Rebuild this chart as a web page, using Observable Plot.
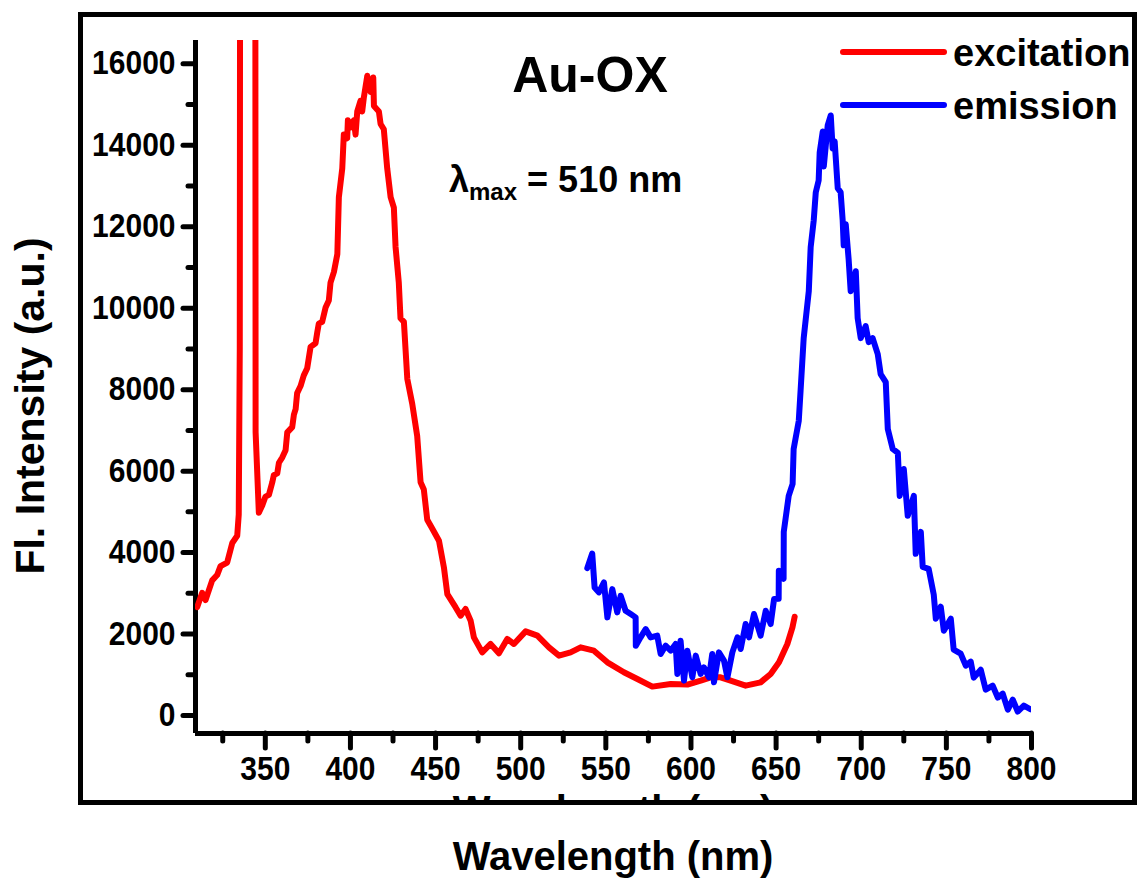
<!DOCTYPE html>
<html>
<head>
<meta charset="utf-8">
<script src="https://cdn.jsdelivr.net/npm/d3@7"></script>
<script src="https://cdn.jsdelivr.net/npm/@observablehq/plot@0.6"></script>
<style>
  html, body { margin: 0; padding: 0; background: #fff; }
  #chart { width: 1140px; height: 879px; }
</style>
</head>
<body>
<div id="chart"></div>
<script>
// ---- Data ----
const excitationWavelength = [310.0, 312.9, 314.9, 318.8, 321.7, 323.7, 327.6, 330.6, 333.5, 334.4, 335.0, 335.4, 340.0, 344.0, 344.3, 346.2, 348.2, 350.1, 352.1, 354.1, 355.0, 357.0, 358.0, 360.0, 361.9, 362.9, 365.8, 366.8, 367.8, 368.7, 370.7, 372.6, 374.6, 376.6, 379.5, 380.5, 381.4, 383.4, 385.4, 387.3, 388.3, 390.3, 392.3, 393.2, 395.2, 396.1, 398.1, 398.5, 400.1, 402.0, 403.0, 404.0, 405.9, 406.9, 407.9, 409.9, 411.8, 412.8, 413.4, 413.8, 416.7, 417.7, 419.6, 421.6, 423.6, 425.5, 426.5, 428.4, 429.4, 431.4, 433.4, 436.3, 439.2, 441.2, 443.1, 445.1, 448.1, 452.0, 454.9, 456.9, 461.8, 464.7, 467.6, 470.6, 472.5, 477.4, 482.3, 487.2, 492.1, 496.0, 502.9, 509.8, 516.6, 522.5, 529.3, 535.2, 543.0, 550.9, 560.6, 568.5, 577.3, 588.1, 597.9, 605.7, 611.6, 617.4, 623.3, 632.1, 640.9, 646.8, 651.7, 656.6, 659.6, 660.9];
const excitationIntensity = [2662, 3012, 2836, 3319, 3449, 3667, 3755, 4238, 4412, 4937, 9000, 30000, 60000, 30000, 6960, 4980, 5157, 5375, 5417, 5726, 5900, 5944, 6206, 6338, 6512, 6951, 7081, 7387, 7520, 7914, 8088, 8350, 8527, 9051, 9139, 9402, 9620, 9664, 10015, 10189, 10628, 10890, 11327, 12728, 13429, 14260, 14172, 14611, 14434, 14611, 14260, 14829, 15091, 14829, 15179, 15703, 15309, 15573, 15662, 14961, 14829, 14522, 14391, 13429, 12728, 12466, 11502, 10628, 9752, 9664, 8262, 7650, 6863, 5726, 5549, 4807, 4586, 4290, 3635, 2983, 2655, 2451, 2615, 2328, 1920, 1552, 1757, 1527, 1880, 1757, 2066, 1961, 1675, 1471, 1552, 1675, 1593, 1307, 1062, 899, 711, 776, 760, 858, 939, 939, 858, 735, 816, 1022, 1307, 1757, 2164, 2426];

const emissionWavelength = [539.1, 542.0, 543.4, 545.9, 548.9, 550.9, 553.8, 556.7, 558.7, 561.6, 564.6, 567.5, 567.6, 570.4, 573.4, 576.3, 580.2, 582.2, 585.1, 588.1, 591.0, 592.0, 593.9, 595.9, 597.9, 600.8, 602.8, 605.7, 607.6, 610.6, 612.5, 613.5, 616.4, 619.4, 621.4, 624.3, 627.3, 629.2, 632.1, 634.1, 637.0, 640.9, 643.9, 646.8, 648.8, 651.5, 651.6, 654.4, 654.5, 657.4, 659.7, 660.3, 663.3, 664.4, 666.2, 669.2, 670.3, 672.1, 673.3, 675.0, 675.6, 677.4, 678.0, 680.3, 682.1, 683.2, 684.4, 686.2, 687.9, 689.1, 689.7, 690.9, 692.6, 693.8, 696.8, 697.9, 699.7, 702.6, 704.4, 706.7, 709.7, 711.4, 714.4, 715.6, 718.5, 721.5, 722.6, 725.0, 727.3, 730.9, 732.0, 735.0, 736.1, 739.6, 742.6, 743.8, 746.7, 748.5, 752.6, 754.3, 758.4, 761.4, 764.3, 766.1, 770.2, 773.1, 777.2, 780.2, 783.1, 786.1, 789.0, 791.9, 795.5, 799.6];
const emissionIntensity = [3620, 3978, 3145, 3023, 3268, 2410, 3104, 2532, 2941, 2573, 2492, 2410, 1716, 1920, 2124, 1920, 1961, 1512, 1716, 1593, 1757, 1022, 1838, 858, 1593, 939, 1471, 1022, 1184, 939, 1512, 816, 1552, 1348, 939, 1552, 1920, 1634, 2247, 1920, 2492, 1961, 2573, 2247, 2860, 2868, 3554, 3358, 4510, 5392, 5686, 6544, 7230, 7990, 9265, 10417, 11495, 12157, 12843, 13137, 13824, 14338, 13480, 14485, 14730, 13922, 14093, 12941, 12843, 12157, 11544, 12059, 11201, 10417, 10907, 9755, 9265, 9559, 9167, 9265, 8873, 8383, 8186, 7034, 6544, 6446, 5392, 6054, 4902, 5392, 3971, 4510, 3652, 3603, 2966, 2378, 2672, 2083, 2378, 1618, 1520, 1225, 1323, 931, 1127, 637, 735, 441, 539, 147, 392, 98, 245, 150];

const xDomain = [309, 800];
const yDomain = [-440, 16570];
const xMajorTicks = [350, 400, 450, 500, 550, 600, 650, 700, 750, 800];
const xMinorTicks = [325, 375, 425, 475, 525, 575, 625, 675, 725, 775];
const yMajorTicks = [0, 2000, 4000, 6000, 8000, 10000, 12000, 14000, 16000];
const yMinorTicks = [1000, 3000, 5000, 7000, 9000, 11000, 13000, 15000];

const seriesNames = ["excitation", "emission"];
const seriesColors = ["#ff0000", "#0000ff"];
const chartTitle = "Au-OX";
const xTitle = "Wavelength (nm)";
const yTitle = "Fl. Intensity (a.u.)";

// ---- Build tables ----
const excitation = excitationWavelength.map((w, i) => ({wl: w, v: excitationIntensity[i]}));
const emission = emissionWavelength.map((w, i) => ({wl: w, v: emissionIntensity[i]}));

const FONT = "'Liberation Sans', Arial, Helvetica, sans-serif";

const plot = Plot.plot({
  width: 1140,
  height: 879,
  marginLeft: 195,
  marginRight: 109,
  marginTop: 40,
  marginBottom: 146,
  style: {fontFamily: FONT, background: "#fff", color: "#000", overflow: "visible"},
  x: {domain: xDomain},
  y: {domain: yDomain},
  marks: [
    Plot.axisY({ticks: yMajorTicks, tickSize: 12, tickPadding: 8, strokeWidth: 5, strokeLinecap: "round",
                fontSize: 30, fontWeight: "bold", tickFormat: d => String(d), label: null}),
    Plot.axisY({ticks: yMinorTicks, tickSize: 7, strokeWidth: 5, strokeLinecap: "round",
                tickFormat: () => "", label: null}),
    Plot.axisX({ticks: xMajorTicks, tickSize: 15, tickPadding: 8, strokeWidth: 5, strokeLinecap: "round",
                fontSize: 30, fontWeight: "bold", tickFormat: d => String(d), label: null}),
    Plot.axisX({ticks: xMinorTicks, tickSize: 8, strokeWidth: 5, strokeLinecap: "round",
                tickFormat: () => "", label: null}),
    Plot.ruleX([xDomain[0]], {strokeWidth: 5}),
    Plot.ruleY([yDomain[0]], {strokeWidth: 5}),
    Plot.line(excitation, {x: "wl", y: "v", stroke: seriesColors[0], strokeWidth: 6,
                           strokeLinejoin: "round", strokeLinecap: "round", clip: true}),
    Plot.line(emission, {x: "wl", y: "v", stroke: seriesColors[1], strokeWidth: 6,
                         strokeLinejoin: "round", strokeLinecap: "round", clip: true})
  ]
});

document.getElementById("chart").appendChild(plot);

// make tick labels a little taller (condensed look of the original)
d3.select(plot).selectAll('g[aria-label$="tick label"] text').each(function() {
  const t = this.getAttribute("transform") || "";
  this.setAttribute("transform", t + " scale(1,1.12)");
});

// ---- Decorations: titles, annotation, legend, frame ----
const svg = d3.select(plot);
const deco = svg.append("g").attr("font-family", FONT).attr("font-weight", "bold")
  .attr("fill", "#000").attr("text-anchor", "start");

// hidden duplicate of the x title peeking above the frame
deco.append("text").attr("x", 613).attr("y", 824).attr("text-anchor", "middle")
  .attr("font-size", 40).text(xTitle);
deco.append("rect").attr("x", 0).attr("y", 803).attr("width", 1140).attr("height", 40).attr("fill", "#fff");

// frame
deco.append("rect").attr("x", 80.5).attr("y", 14.5).attr("width", 1054).attr("height", 788)
  .attr("fill", "none").attr("stroke", "#000").attr("stroke-width", 5);

// axis titles
deco.append("text").attr("x", 613).attr("y", 870).attr("text-anchor", "middle")
  .attr("font-size", 40).text(xTitle);
deco.append("text").attr("transform", "translate(44,406) rotate(-90)").attr("text-anchor", "middle")
  .attr("font-size", 41).text(yTitle);

// chart title
deco.append("text").attr("x", 590).attr("y", 92).attr("text-anchor", "middle")
  .attr("font-size", 50).text(chartTitle);

// lambda max annotation
const lam = deco.append("text").attr("x", 449).attr("y", 192).attr("font-size", 36).attr("text-anchor", "start");
lam.append("tspan").text("λ");
lam.append("tspan").attr("font-size", 24).attr("dy", 8).text("max");
lam.append("tspan").attr("dy", -8).text(" = 510 nm");

// legend
const legendY = [52, 105];
seriesNames.forEach((name, i) => {
  deco.append("line").attr("x1", 843).attr("x2", 944).attr("y1", legendY[i]).attr("y2", legendY[i])
    .attr("stroke", seriesColors[i]).attr("stroke-width", 6).attr("stroke-linecap", "round");
  deco.append("text").attr("x", 953).attr("y", legendY[i] + 14).attr("font-size", 38)
    .attr("text-anchor", "start").text(name);
});
</script>
</body>
</html>
